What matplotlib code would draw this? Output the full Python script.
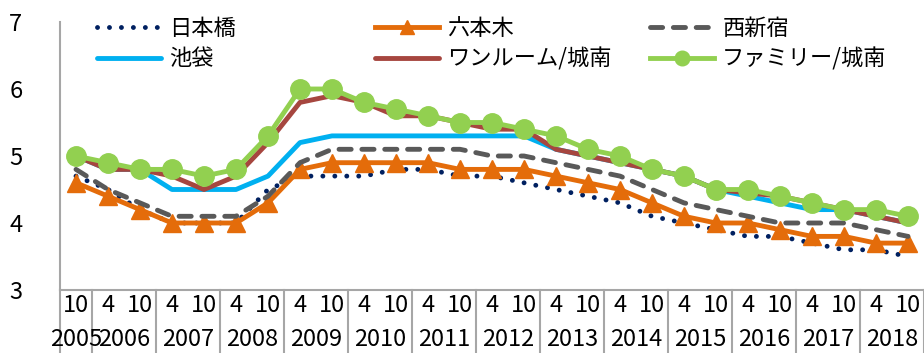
import matplotlib
matplotlib.use("Agg")
import matplotlib.pyplot as plt
import matplotlib.transforms as mtransforms

plt.rcParams['font.family'] = ['Noto Sans CJK JP', 'DejaVu Sans']

# ---- data ----
months = ["10"] + ["4", "10"] * 13
years = ["2005", "2006", "2007", "2008", "2009", "2010", "2011", "2012",
         "2013", "2014", "2015", "2016", "2017", "2018"]

nihonbashi = [4.7, 4.5, 4.2, 4.0, 4.0, 4.0, 4.5, 4.7, 4.7, 4.7, 4.8, 4.8, 4.7, 4.7,
              4.6, 4.5, 4.4, 4.3, 4.1, 4.0, 3.9, 3.8, 3.8, 3.7, 3.6, 3.6, 3.5]
roppongi = [4.6, 4.4, 4.2, 4.0, 4.0, 4.0, 4.3, 4.8, 4.9, 4.9, 4.9, 4.9, 4.8, 4.8,
            4.8, 4.7, 4.6, 4.5, 4.3, 4.1, 4.0, 4.0, 3.9, 3.8, 3.8, 3.7, 3.7]
nishishinjuku = [4.8, 4.5, 4.3, 4.1, 4.1, 4.1, 4.4, 4.9, 5.1, 5.1, 5.1, 5.1, 5.1, 5.0,
                 5.0, 4.9, 4.8, 4.7, 4.5, 4.3, 4.2, 4.1, 4.0, 4.0, 4.0, 3.9, 3.8]
ikebukuro = [5.0, 4.8, 4.8, 4.5, 4.5, 4.5, 4.7, 5.2, 5.3, 5.3, 5.3, 5.3, 5.3, 5.3,
             5.3, 5.1, 5.0, 4.9, 4.8, 4.7, 4.5, 4.4, 4.3, 4.2, 4.2, 4.1, 4.0]
oneroom_jonan = [5.0, 4.8, 4.8, 4.7, 4.5, 4.7, 5.2, 5.8, 5.9, 5.8, 5.6, 5.6, 5.5, 5.4,
                 5.4, 5.1, 5.0, 4.9, 4.8, 4.7, 4.5, 4.45, 4.4, 4.3, 4.2, 4.1, 4.0]
family_jonan = [5.0, 4.9, 4.8, 4.8, 4.7, 4.8, 5.3, 6.0, 6.0, 5.8, 5.7, 5.6, 5.5, 5.5,
                5.4, 5.3, 5.1, 5.0, 4.8, 4.7, 4.5, 4.5, 4.4, 4.3, 4.2, 4.2, 4.1]

names = ["日本橋", "六本木", "西新宿", "池袋", "ワンルーム/城南", "ファミリー/城南"]

# ---- figure ----
W, H = 924, 353
fig = plt.figure(figsize=(W / 100, H / 100), dpi=100)
ax = fig.add_axes([60 / W, 63 / H, 864 / W, 268 / H])

x = list(range(len(months)))
lw = 3.5
l1, = ax.plot(x, nihonbashi, color="#002060", lw=lw, linestyle=(0, (0.01, 2.45)),
              dash_capstyle='round', label=names[0])
l2, = ax.plot(x, roppongi, color="#E46C0A", lw=lw, marker="^", markersize=13,
              label=names[1])
l3, = ax.plot(x, nishishinjuku, color="#595959", lw=lw, linestyle=(0, (2.5, 2.2)),
              dash_capstyle='round', label=names[2])
l4, = ax.plot(x, ikebukuro, color="#00B0F0", lw=lw, solid_capstyle='round', label=names[3])
l5, = ax.plot(x, oneroom_jonan, color="#A6463F", lw=lw, solid_capstyle='round', label=names[4])
l6, = ax.plot(x, family_jonan, color="#92D050", lw=lw, marker="o", markersize=14,
              label=names[5])

ax.set_xlim(-0.5, len(months) - 0.5)
ax.set_ylim(3, 7)
ax.set_yticks([3, 4, 5, 6, 7])
ax.tick_params(axis='y', length=0, pad=27, labelsize=17)
ax.set_xticks([])
for s in ["top", "right"]:
    ax.spines[s].set_visible(False)
for s in ["left", "bottom"]:
    ax.spines[s].set_color("#A6A6A6")
    ax.spines[s].set_linewidth(1.5)

# category axis with month and year rows
trans = mtransforms.blended_transform_factory(ax.transData, ax.transAxes)
yb = -63 / 268
seps = [-0.5, 0.5] + [0.5 + 2 * k for k in range(1, 14)]
for s in seps:
    ax.plot([s, s], [0, yb], transform=trans, color="#A6A6A6", lw=1.5, clip_on=False)
for i, m in enumerate(months):
    ax.text(i, -15 / 268, m, transform=trans, ha='center', va='center', fontsize=17)
year_pos = [0] + [1.5 + 2 * k for k in range(13)]
for p, yv in zip(year_pos, years):
    ax.text(p, -50 / 268, yv, transform=trans, ha='center', va='center', fontsize=17)

# legends (three columns, two rows)
cols = [(l1, l4, 97), (l2, l5, 375), (l3, l6, 650)]
for a, b, px in cols:
    leg = fig.legend(handles=[a, b], loc='upper left',
                     bbox_to_anchor=(px / W, 1 - 17 / H), frameon=False,
                     fontsize=16, handlelength=2.9, handletextpad=0.35,
                     labelspacing=0.33, borderpad=0, borderaxespad=0,
                     markerscale=0.75)

fig.savefig("out.png", dpi=100)
